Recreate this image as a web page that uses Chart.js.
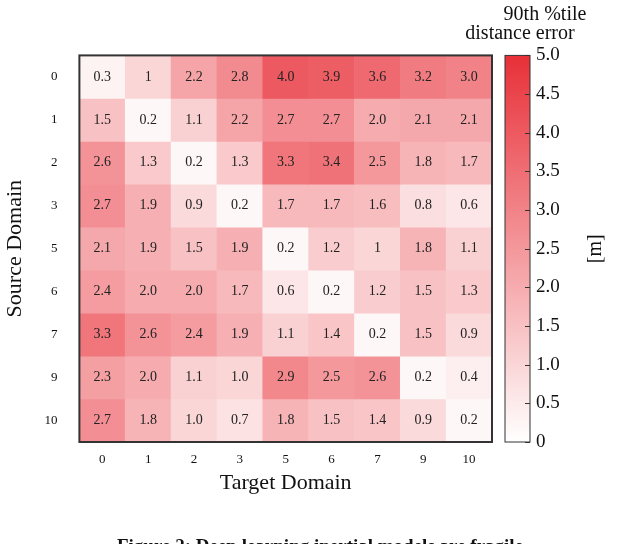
<!DOCTYPE html>
<html>
<head>
<meta charset="utf-8">
<script src="https://cdn.jsdelivr.net/npm/chart.js@4"></script>
<style>
  html, body { margin: 0; padding: 0; background: #fff; }
  #wrap { width: 640px; height: 544px; }
</style>
</head>
<body>
<div id="wrap"><canvas id="heat"></canvas></div>
<script>
const domains = ["0", "1", "2", "3", "5", "6", "7", "9", "10"];
const cellText = [
  ["0.3", "1", "2.2", "2.8", "4.0", "3.9", "3.6", "3.2", "3.0"],
  ["1.5", "0.2", "1.1", "2.2", "2.7", "2.7", "2.0", "2.1", "2.1"],
  ["2.6", "1.3", "0.2", "1.3", "3.3", "3.4", "2.5", "1.8", "1.7"],
  ["2.7", "1.9", "0.9", "0.2", "1.7", "1.7", "1.6", "0.8", "0.6"],
  ["2.1", "1.9", "1.5", "1.9", "0.2", "1.2", "1", "1.8", "1.1"],
  ["2.4", "2.0", "2.0", "1.7", "0.6", "0.2", "1.2", "1.5", "1.3"],
  ["3.3", "2.6", "2.4", "1.9", "1.1", "1.4", "0.2", "1.5", "0.9"],
  ["2.3", "2.0", "1.1", "1.0", "2.9", "2.5", "2.6", "0.2", "0.4"],
  ["2.7", "1.8", "1.0", "0.7", "1.8", "1.5", "1.4", "0.9", "0.2"],
];
const colorTicks = [0, 0.5, 1, 1.5, 2, 2.5, 3, 3.5, 4, 4.5, 5];
const vmax = 5;
const FONT = "'Liberation Serif', 'DejaVu Serif', serif";

function heatColor(v) {
  const t = Math.max(0, Math.min(1, v / vmax));
  const r = Math.round(255 + (232 - 255) * t);
  const g = Math.round(255 + (48 - 255) * t);
  const b = Math.round(255 + (56 - 255) * t);
  return `rgb(${r},${g},${b})`;
}

const datasets = cellText.map((row, ri) => ({
  label: domains[ri],
  data: row.map((_, ci) => [ri - 0.5, ri + 0.5]),
  backgroundColor: row.map((s) => heatColor(parseFloat(s))),
  borderWidth: 0,
  barPercentage: 1,
  categoryPercentage: 1,
  grouped: false,
}));

const overlay = {
  id: "overlay",
  afterDatasetsDraw(chart) {
    const { ctx, chartArea: a, scales } = chart;
    ctx.save();
    // cell values
    ctx.fillStyle = "#222";
    ctx.font = `14px ${FONT}`;
    ctx.textAlign = "center";
    ctx.textBaseline = "middle";
    cellText.forEach((row, ri) => {
      row.forEach((s, ci) => {
        ctx.fillText(s, scales.x.getPixelForValue(ci), scales.y.getPixelForValue(ri));
      });
    });
    // frame
    ctx.strokeStyle = "#333";
    ctx.lineWidth = 2;
    ctx.strokeRect(a.left, a.top, a.right - a.left, a.bottom - a.top);
    // colorbar
    const cb = scales.cb;
    const x0 = cb.left + 13, w = 25;
    const top = cb.getPixelForValue(vmax), bot = cb.getPixelForValue(0);
    const grad = ctx.createLinearGradient(0, bot, 0, top);
    grad.addColorStop(0, heatColor(0));
    grad.addColorStop(1, heatColor(vmax));
    ctx.fillStyle = grad;
    ctx.fillRect(x0, top, w, bot - top);
    ctx.strokeStyle = "#333";
    ctx.lineWidth = 1;
    ctx.strokeRect(x0, top, w, bot - top);
    colorTicks.forEach((v) => {
      const y = Math.round(cb.getPixelForValue(v)) + 0.5;
      ctx.beginPath();
      ctx.moveTo(x0 + w - 5, y);
      ctx.lineTo(x0 + w, y);
      ctx.stroke();
    });
    ctx.fillStyle = "#111";
    ctx.font = `20px ${FONT}`;
    ctx.textAlign = "center";
    ctx.textBaseline = "alphabetic";
    ctx.fillText("90th %tile", 545, 20);
    ctx.fillText("distance error", 520, 39);
    ctx.save();
    ctx.translate(596, (top + bot) / 2);
    ctx.rotate(-Math.PI / 2);
    ctx.textBaseline = "middle";
    ctx.fillText("[m]", 0, 0);
    ctx.restore();
    ctx.font = `bold 19px ${FONT}`;
    ctx.fillText("Figure 2: Deep learning inertial models are fragile", 320, 552);
    ctx.restore();
  },
};

new Chart(document.getElementById("heat"), {
  type: "bar",
  data: { labels: domains, datasets },
  options: {
    responsive: true,
    maintainAspectRatio: false,
    animation: false,
    layout: { padding: { top: 30, bottom: 48, left: 0, right: 0 } },
    plugins: { legend: { display: false }, tooltip: { enabled: false } },
    scales: {
      x: {
        grid: { display: false },
        border: { display: false },
        ticks: { color: "#111", font: { family: FONT, size: 13 }, padding: 2 },
        title: { display: true, text: "Target Domain", color: "#111", font: { family: FONT, size: 22 }, padding: 0 },
      },
      y: {
        type: "linear",
        reverse: true,
        min: -0.5,
        max: 8.5,
        afterBuildTicks(scale) {
          scale.ticks = domains.map((_, i) => ({ value: i }));
        },
        grid: { display: false },
        border: { display: false },
        ticks: {
          color: "#111",
          font: { family: FONT, size: 13 },
          padding: 14,
          callback: (v) => domains[v],
        },
        title: { display: true, text: "Source Domain", color: "#111", font: { family: FONT, size: 22 }, padding: 2 },
      },
      cb: {
        type: "linear",
        position: "right",
        min: 0,
        max: vmax,
        afterFit(scale) { scale.width = 148; },
        afterBuildTicks(scale) {
          scale.ticks = colorTicks.map((v) => ({ value: v }));
        },
        grid: { display: false, drawTicks: false },
        border: { display: false },
        ticks: { color: "#111", font: { family: FONT, size: 19 }, padding: 44 },
      },
    },
  },
  plugins: [overlay],
});
</script>
</body>
</html>
